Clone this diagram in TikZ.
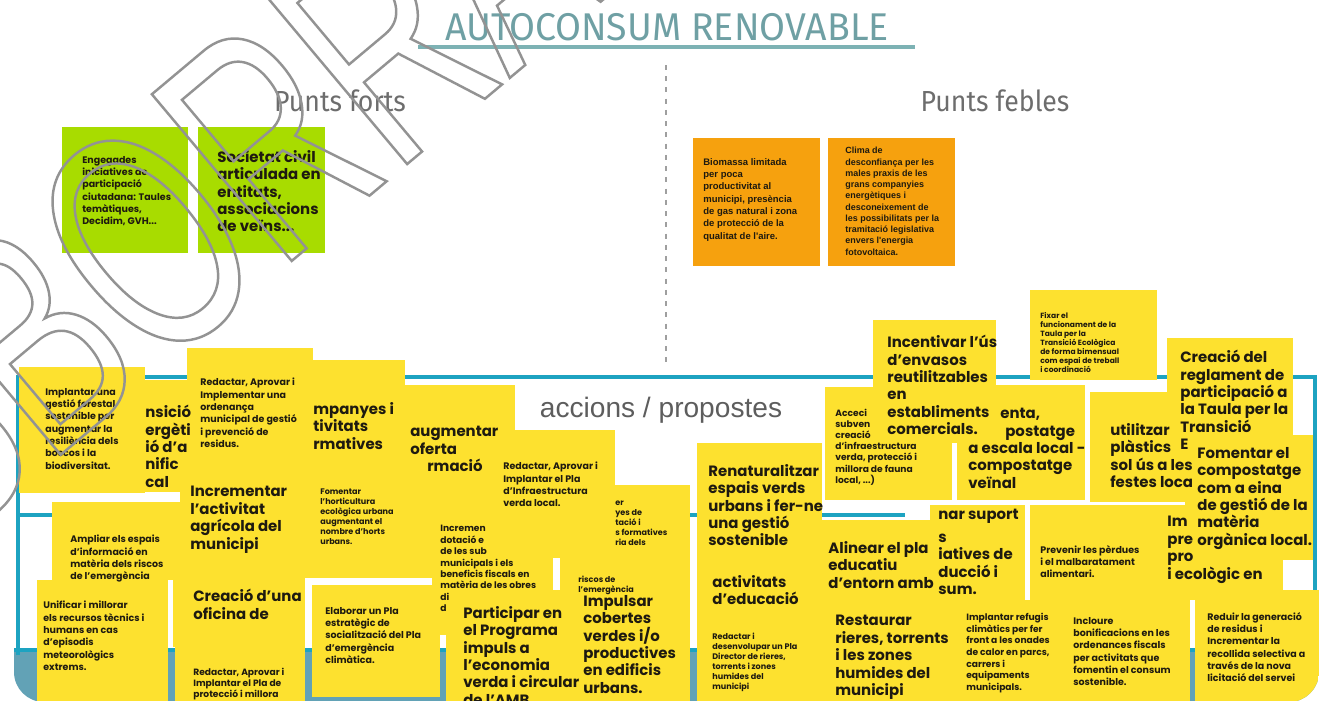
\documentclass[tikz,border=0pt]{standalone}
\usepackage{fontspec}
\setmainfont{Poppins}
\newfontfamily\titlefont[FakeStretch=0.97]{Fira Sans}
\newfontfamily\headfont[FakeStretch=0.92]{Fira Sans}
\newfontfamily\arialfont{Liberation Sans}
\newfontfamily\wmfont[FakeStretch=0.66]{Liberation Sans}
\usetikzlibrary{positioning}
\definecolor{acYellow}{HTML}{FDE12F}
\definecolor{acGreen}{HTML}{A8DC00}
\definecolor{acOrange}{HTML}{F6A10E}
\definecolor{acTeal}{HTML}{1DA3C1}
\definecolor{acBand}{HTML}{62A2B6}
\definecolor{acTitle}{HTML}{6FA0A4}
\definecolor{acRule}{HTML}{7DB2B4}
\definecolor{acGrey}{HTML}{6D6D6D}
\definecolor{acInk}{HTML}{1E1A10}
\newcommand{\pxu}{0.02cm}
\newcommand{\hollow}[1]{\special{pdf:literal direct 1 Tr 1.4 w}#1\special{pdf:literal direct 0 Tr}}
\tikzset{
  postit/.style    = {rectangle, fill=#1, inner sep=0pt, anchor=north west},
  notetxt/.style   = {align=left, anchor=north west, inner sep=0pt, text=acInk},
  ttxt/.style      = {notetxt, font=\bfseries\fontsize{4.6}{5.7}\selectfont},
  ptxt/.style      = {notetxt, font=\bfseries\fontsize{5.4}{7}\selectfont},
  otxt/.style      = {notetxt, font=\arialfont\bfseries\fontsize{5.4}{7}\selectfont},
  btxt/.style      = {notetxt, font=\bfseries\fontsize{8.5}{9.9}\selectfont},
  ttl/.style       = {font=\titlefont\fontsize{22}{24}\selectfont, text=acTitle},
  hdr/.style       = {font=\headfont\fontsize{16.5}{18}\selectfont, text=acGrey},
  acc/.style       = {font=\arialfont\fontsize{16}{18}\selectfont, text=acGrey!85!black},
  boardline/.style = {acTeal, line width=2.3pt},
  divider/.style   = {gray!75, line width=1.4pt, dash pattern=on 2.8pt off 3.6pt},
  wmark/.style     = {font=\wmfont\fontsize{180}{190}\selectfont, text=gray!85, inner sep=0pt},
}

\begin{document}
\begin{tikzpicture}[x=\pxu, y=-\pxu]
  \newcommand{\postit}[6]{%
    \node[postit=#2, minimum width=#5*\pxu, minimum height=#6*\pxu] (#1) at (#3,#4) {};}
  \useasboundingbox (0,0) rectangle (1325,700);
  % heading
  \node[ttl] (title) at (667,27) {AUTOCONSUM RENOVABLE};
  \draw[acRule, line width=2.8pt] (418,47) -- (915,47);
  \draw[divider] (666,65) -- (666,368);
  \node[hdr] (forts) at (340,101) {Punts forts};
  \node[hdr] (febles) at (995,101) {Punts febles};
  % punts forts / febles
  \postit{fort1}{acGreen}{62}{127}{126}{126}
  \postit{fort2}{acGreen}{198}{127}{127}{126}
  \postit{feble1}{acOrange}{693}{138}{127}{128}
  \postit{feble2}{acOrange}{828}{138}{127}{128}
  \node[ptxt] (fort1-t) at (82,156) {Engegades\\iniciatives de\\participació\\ciutadana: Taules\\temàtiques,\\Decidim, GVH...};
  \node[btxt] (fort2-t) at (217,150) {Societat civil\\articulada en\\entitats,\\associacions\\de veïns...};
  \node[otxt] (feble1-t) at (703,158) {Biomassa limitada\\per poca\\productivitat al\\municipi, presència\\de gas natural i zona\\de protecció de la\\qualitat de l'aire.};
  \node[otxt, font=\arialfont\bfseries\fontsize{5.1}{6.4}\selectfont] (feble2-t) at (845,147) {Clima de\\desconfiança per les\\males praxis de les\\grans companyies\\energètiques i\\desconeixement de\\les possibilitats per la\\tramitació legislativa\\envers l'energia\\fotovoltaica.};
  % accions / propostes
  \begin{scope}
    \clip[rounded corners=0.6cm] (14,280) rectangle (1319,702);
    \fill[acBand] (14,648) rectangle (1319,702);
    \draw[boardline] (14,650) -- (1319,650);
    \draw[boardline] (18,655) -- (18,377) -- (1315,377) -- (1315,600);
    \draw[boardline] (18,515) -- (905,515);
    \node[acc] (accions) at (661,410) {accions / propostes};
    \postit{transicio}{acYellow}{140}{380}{60}{112}
    \postit{campanyes}{acYellow}{313}{360}{92}{125}
    \postit{oferta}{acYellow}{405}{385}{110}{130}
    \postit{gestiofor}{acYellow}{19}{367}{126}{126}
    \postit{ordenanca}{acYellow}{187}{348}{126}{130}
    \postit{ampliar}{acYellow}{52}{502}{128}{78}
    \postit{agricola}{acYellow}{180}{478}{125}{100}
    \postit{horticultura}{acYellow}{305}{478}{127}{100}
    \postit{infraverda}{acYellow}{495}{430}{120}{95}
    \postit{formatives}{acYellow}{553}{485}{137}{73}
    \postit{dotacio}{acYellow}{432}{515}{121}{120}
    \postit{riscos}{acYellow}{560}{558}{130}{32}
    \postit{unificar}{acYellow}{37}{580}{131}{125}
    \postit{oficina}{acYellow}{173}{575}{132}{72}
    \postit{proteccio}{acYellow}{175}{645}{130}{60}
    \postit{elaborar}{acYellow}{312}{585}{128}{112}
    \postit{programa}{acYellow}{446}{590}{128}{115}
    \postit{cobertes}{acYellow}{572}{588}{118}{117}
    \postit{subvencio}{acYellow}{825}{387}{127}{113}
    \postit{envasos}{acYellow}{873}{320}{123}{123}
    \postit{veinal}{acYellow}{957}{385}{128}{115}
    \postit{fixar}{acYellow}{1030}{290}{127}{90}
    \postit{plastics}{acYellow}{1090}{392}{100}{110}
    \postit{reglament}{acYellow}{1167}{338}{126}{132}
    \postit{renatura}{acYellow}{697}{443}{125}{117}
    \postit{educacio}{acYellow}{697}{560}{125}{62}
    \postit{pladirector}{acYellow}{697}{620}{125}{85}
    \postit{alinear}{acYellow}{820}{520}{115}{82}
    \postit{suport}{acYellow}{930}{505}{95}{97}
    \postit{prevenir}{acYellow}{1030}{505}{132}{97}
    \postit{ecologic}{acYellow}{1160}{505}{123}{95}
    \postit{compostatge}{acYellow}{1185}{435}{128}{125}
    \postit{rieres}{acYellow}{820}{600}{135}{105}
    \postit{refugis}{acYellow}{953}{600}{107}{105}
    \postit{bonificacions}{acYellow}{1058}{600}{132}{105}
    \postit{residus}{acYellow}{1195}{590}{124}{115}
    % texts on the notes
    \node[ptxt] (gestiofor-t) at (45,388) {Implantar una\\gestió forestal\\sostenible per\\augmentar la\\resiliència dels\\boscos i la\\biodiversitat.};
    \node[btxt] (transicio-t) at (145,405) {nsició\\ergèti\\ió d'a\\nific\\cal};
    \node[ptxt] (ordenanca-t) at (200,378) {Redactar, Aprovar i\\Implementar una\\ordenança\\municipal de gestió\\i prevenció de\\residus.};
    \node[btxt] (campanyes-t) at (313,402) {mpanyes i\\tivitats\\rmatives};
    \node[btxt] (oferta-t) at (410,426) {augmentar\\oferta\\\hspace*{0.34cm}rmació};
    \node[ptxt] (infraverda-t) at (503,462) {Redactar, Aprovar i\\Implantar el Pla\\d'Infraestructura\\verda local.};
    \node[ptxt] (ampliar-t) at (70,535) {Ampliar els espais\\d'informació en\\matèria dels riscos\\de l'emergència};
    \node[btxt] (agricola-t) at (190,486) {Incrementar\\l'activitat\\agrícola del\\municipi};
    \node[ttxt] (horticultura-t) at (320,488) {Fomentar\\l'horticultura\\ecològica urbana\\augmentant el\\nombre d'horts\\urbans.};
    \node[ttxt] (formatives-t) at (615,501) {er\\yes de\\tació i\\s formatives\\ria dels};
    \node[ptxt, font=\bfseries\fontsize{5.2}{6.5}\selectfont] (dotacio-t) at (440,525) {Incremen\\dotació e\\de les sub\\municipals i els\\beneficis fiscals en\\matèria de les obres\\di\\d};
    \node[ttxt] (riscos-t) at (578,576) {riscos de\\l'emergència};
    \node[ptxt] (unificar-t) at (43,601) {Unificar i millorar\\els recursos tècnics i\\humans en cas\\d'episodis\\meteorològics\\extrems.};
    \node[btxt] (oficina-t) at (193,589) {Creació d'una\\oficina de};
    \node[ptxt, font=\bfseries\fontsize{5.2}{6.3}\selectfont] (proteccio-t) at (193,668) {Redactar, Aprovar i\\Implantar el Pla de\\protecció i millora};
    \node[ptxt] (elaborar-t) at (325,607) {Elaborar un Pla\\estratègic de\\socialització del Pla\\d'emergència\\climàtica.};
    \node[btxt] (programa-t) at (463,606) {Participar en\\el Programa\\impuls a\\l'economia\\verda i circular\\de l'AMB.};
    \node[btxt] (cobertes-t) at (583,595) {Impulsar\\cobertes\\verdes i/o\\productives\\en edificis\\urbans.};
    \node[ptxt, font=\bfseries\fontsize{5.2}{6.3}\selectfont] (subvencio-t) at (835,409) {Acceci\\subven\\creació\\d'infraestructura\\verda, protecció i\\millora de fauna\\local, ...)};
    \node[btxt] (envasos-t) at (887,335) {Incentivar l'ús\\d'envasos\\reutilitzables\\en\\establiments\\comercials.};
    \node[btxt] (veinal-t) at (968,408) {\hspace*{0.64cm}enta,\\\hspace*{0.74cm}postatge\\a escala local -\\compostatge\\veïnal};
    \node[ttxt, font=\bfseries\fontsize{4.3}{5.1}\selectfont] (fixar-t) at (1040,312) {Fixar el\\funcionament de la\\Taula per la\\Transició Ecològica\\de forma bimensual\\com espai de treball\\i coordinació};
    \node[btxt] (plastics-t) at (1110,423) {utilitzar\\plàstics\\sol ús a les\\festes loca};
    \node[btxt] (reglament-t) at (1180,350) {Creació del\\reglament de\\participació a\\la Taula per la\\Transició\\E};
    \node[btxt] (renatura-t) at (708,464) {Renaturalitzar\\espais verds\\urbans i fer-ne\\una gestió\\sostenible};
    \node[btxt] (educacio-t) at (712,575) {activitats\\d'educació};
    \node[ttxt] (pladirector-t) at (712,633) {Redactar i\\desenvolupar un Pla\\Director de rieres,\\torrents i zones\\humides del\\municipi};
    \node[btxt] (alinear-t) at (828,541) {Alinear el pla\\educatiu\\d'entorn amb};
    \node[btxt] (suport-t) at (938,509) {nar suport\\[3pt]s\\iatives de\\ducció i\\sum.};
    \node[ptxt] (prevenir-t) at (1040,545) {Prevenir les pèrdues\\i el malbaratament\\alimentari.};
    \node[btxt] (ecologic-t) at (1167,516) {Im\\pre\\pro\\i ecològic en};
    \node[btxt] (compostatge-t) at (1197,447) {Fomentar el\\compostatge\\com a eina\\de gestió de la\\matèria\\orgànica local.};
    \node[btxt] (rieres-t) at (835,615) {Restaurar\\rieres, torrents\\i les zones\\humides del\\municipi};
    \node[ptxt, font=\bfseries\fontsize{5.2}{6.6}\selectfont] (refugis-t) at (966,613) {Implantar refugis\\climàtics per fer\\front a les onades\\de calor en parcs,\\carrers i\\equipaments\\municipals.};
    \node[ptxt] (bonificacions-t) at (1073,617) {Incloure\\bonificacions en les\\ordenances fiscals\\per activitats que\\fomentin el consum\\sostenible.};
    \node[ptxt] (residus-t) at (1207,612) {Reduir la generació\\de residus i\\Incrementar la\\recollida selectiva a\\través de la nova\\licitació del servei};
  \end{scope}
  % watermark
  \node[wmark, rotate=40, anchor=base west] (esborrany) at (-166,645) {\hollow{ESBORRANY}};
\end{tikzpicture}
\end{document}
